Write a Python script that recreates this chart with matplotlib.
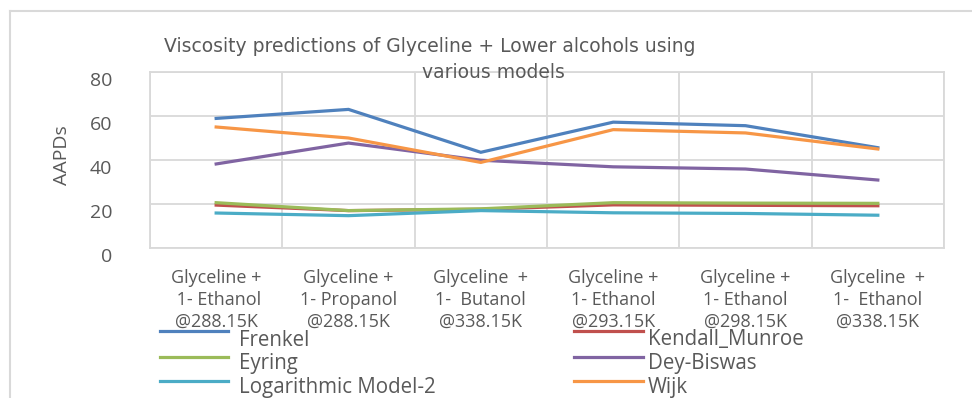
import matplotlib
matplotlib.use("Agg")
import matplotlib.pyplot as plt
from matplotlib.lines import Line2D
from matplotlib.transforms import ScaledTranslation

categories = [
    "Glyceline +\n 1- Ethanol\n@288.15K",
    "Glyceline +\n1- Propanol\n@288.15K",
    "Glyceline  +\n1-  Butanol\n@338.15K",
    "Glyceline +\n1- Ethanol\n@293.15K",
    "Glyceline +\n1- Ethanol\n@298.15K",
    "Glyceline  +\n1-  Ethanol\n@338.15K",
]

frenkel = [58.9, 63.0, 43.5, 57.2, 55.6, 45.6]
kendall_munroe = [19.5, 17.0, 17.6, 19.6, 19.4, 19.2]
eyring = [20.6, 17.0, 17.8, 20.6, 20.4, 20.3]
dey_biswas = [38.2, 47.7, 39.9, 36.9, 35.9, 30.9]
log_model2 = [15.9, 14.7, 17.0, 16.0, 15.7, 14.9]
wijk = [55.0, 50.0, 38.9, 53.8, 52.3, 45.0]

y_ticks = [0, 20, 40, 60, 80]

series = [
    ("Frenkel", frenkel, "#4F81BD"),
    ("Kendall_Munroe", kendall_munroe, "#C0504D"),
    ("Eyring", eyring, "#9BBB59"),
    ("Dey-Biswas", dey_biswas, "#8064A2"),
    ("Logarithmic Model-2", log_model2, "#4BACC6"),
    ("Wijk", wijk, "#F79646"),
]

W, H = 972, 398
plt.rcParams["font.family"] = ["Open Sans", "DejaVu Sans"]
fig = plt.figure(figsize=(W / 100, H / 100), dpi=100)
fig.patch.set_facecolor("white")

grid_c = "#D9D9D9"
text_c = "#595959"

# chart frame (runs past the right and bottom edges)
fig.add_artist(Line2D([10 / W, 1.0], [1 - 11 / H, 1 - 11 / H], color=grid_c, lw=1.5))
fig.add_artist(Line2D([10 / W, 10 / W], [0.0, 1 - 11 / H], color=grid_c, lw=1.5))

ax = fig.add_axes([150 / W, 150 / H, 794 / W, 176 / H])
x = list(range(len(categories)))
for name, vals, col in series:
    ax.plot(x, vals, color=col, lw=2.3, solid_joinstyle="miter", zorder=3)

ax.set_xlim(-0.5, len(categories) - 0.5)
ax.set_ylim(0, 80)
ax.set_yticks(y_ticks)
ax.set_yticklabels([str(v) for v in y_ticks], fontsize=14, color=text_c)
ax.set_xticks(x)
ax.set_xticklabels(categories, fontsize=13, color=text_c, linespacing=1.3)
ax.set_xticks([i - 0.5 for i in range(len(categories) + 1)], minor=True)
ax.tick_params(axis="both", which="both", length=0)
ax.tick_params(axis="y", pad=27)
ax.tick_params(axis="x", pad=15)
for lbl in ax.get_yticklabels():
    lbl.set_transform(lbl.get_transform() + ScaledTranslation(0, -7 / 100, fig.dpi_scale_trans))
ax.grid(True, axis="y", which="major", color=grid_c, lw=1.3, zorder=0)
ax.grid(True, axis="x", which="minor", color=grid_c, lw=1.3, zorder=0)
for sp in ax.spines.values():
    sp.set_color(grid_c)
    sp.set_linewidth(1.3)

fig.text(62 / W, 1 - 155 / H, "AAPDs", rotation=90, ha="center", va="center",
         fontsize=14, color=text_c)

title_font = ["DejaVu Sans"]
fig.text(430 / W, 1 - 47 / H, "Viscosity predictions of Glyceline + Lower alcohols using",
         ha="center", va="center", fontsize=13.5, color=text_c, family=title_font)
fig.text(493 / W, 1 - 72 / H, "various models",
         ha="center", va="center", fontsize=13.5, color=text_c, family=title_font)

# legend in two columns
legend_rows = [(331, 340), (357, 364), (381, 387)]
left_col = [series[0], series[2], series[4]]
right_col = [series[1], series[3], series[5]]
for col_items, x0, x1, xt in ((left_col, 160, 228, 239), (right_col, 574, 643, 648)):
    for (name, _, colr), (yl, yt) in zip(col_items, legend_rows):
        fig.add_artist(Line2D([x0 / W, x1 / W], [1 - yl / H, 1 - yl / H], color=colr, lw=2.3))
        fig.text(xt / W, 1 - yt / H, name, ha="left", va="center", fontsize=14.8, color=text_c)

fig.savefig("out.png", dpi=100)
